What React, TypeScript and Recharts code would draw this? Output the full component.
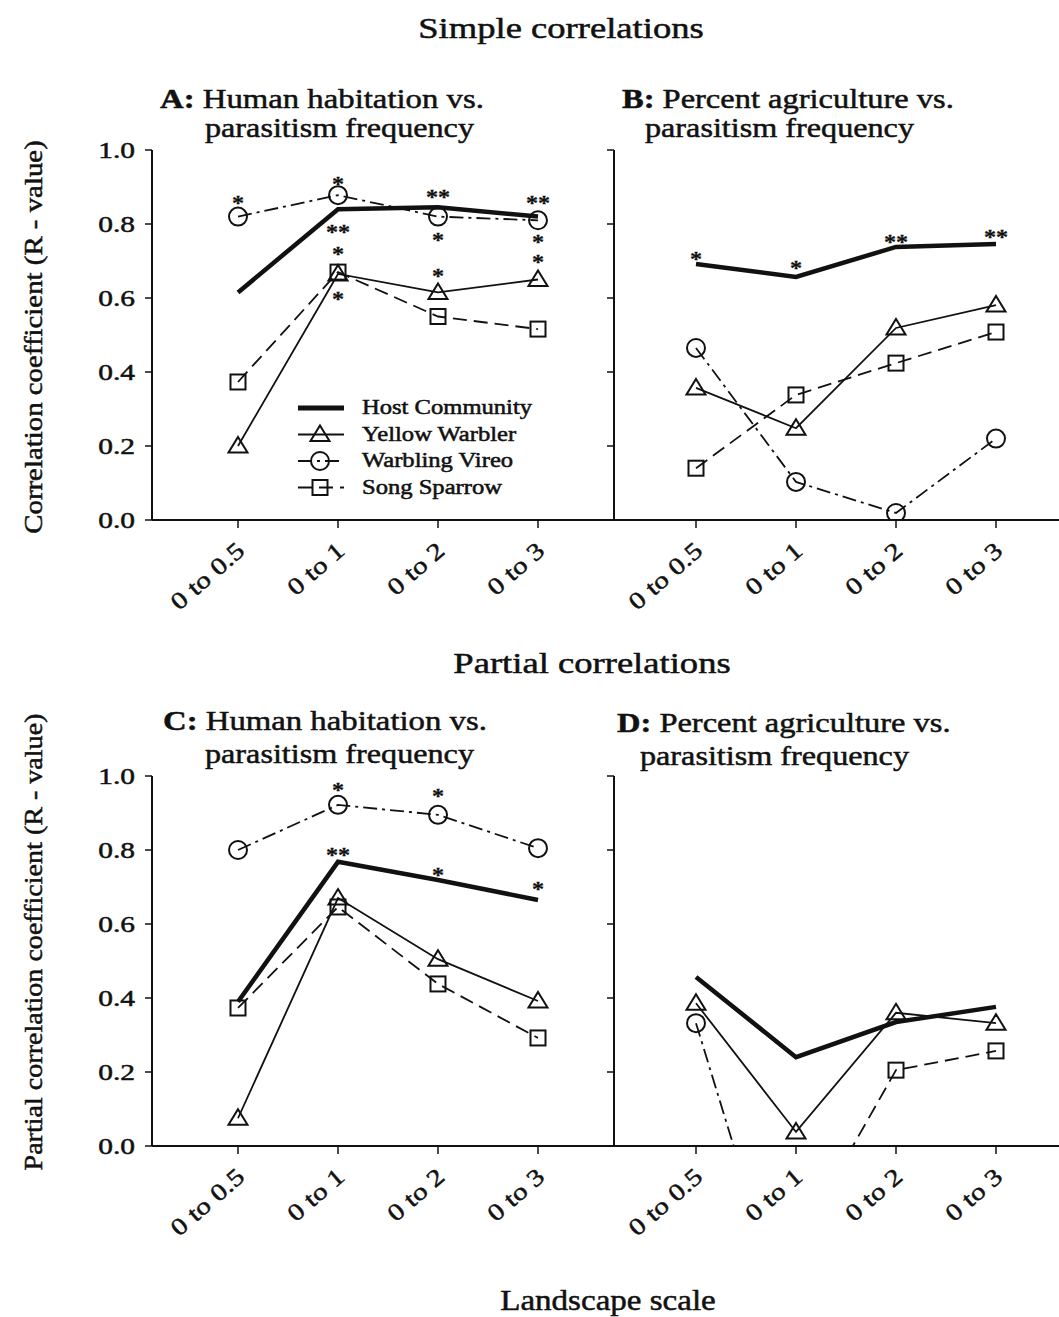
import React from 'react';
import { ComposedChart, Line, XAxis, YAxis, Legend, ReferenceDot } from 'recharts';

const SERIF = '"Liberation Serif", "Times New Roman", serif';
const INK = '#111';

// landscape scales (x categories)
const scales = ['0 to 0.5', '0 to 1', '0 to 2', '0 to 3'];
const scalePos = [1, 2, 3, 4];
const yTicks = [0, 0.2, 0.4, 0.6, 0.8, 1.0];

// A: human habitation vs. parasitism frequency (simple)
const hostA = [0.615, 0.84, 0.845, 0.82];
const warblerA = [0.2, 0.665, 0.615, 0.65];
const vireoA = [0.82, 0.878, 0.82, 0.81];
const sparrowA = [0.373, 0.67, 0.55, 0.516];

// B: percent agriculture vs. parasitism frequency (simple)
const hostB = [0.692, 0.657, 0.738, 0.746];
const warblerB = [0.357, 0.248, 0.519, 0.581];
const vireoB = [0.465, 0.103, 0.019, 0.22];
const sparrowB = [0.14, 0.338, 0.424, 0.508];

// C: human habitation (partial)
const hostC = [0.39, 0.768, 0.719, 0.665];
const warblerC = [0.075, 0.67, 0.505, 0.392];
const vireoC = [0.8, 0.922, 0.895, 0.805];
const sparrowC = [0.373, 0.646, 0.438, 0.292];

// D: percent agriculture (partial) - some values fall below the axis
const hostD = [0.457, 0.24, 0.335, 0.376];
const warblerD = [0.386, 0.038, 0.36, 0.332];
const vireoD = [0.332, -0.55, null, null];
const sparrowD = [null, -0.27, 0.205, 0.257];

type Star = { pos: number; r: number; mark: string };

const starsA: Star[] = [
  { pos: 1, r: 0.868, mark: '*' },
  { pos: 2, r: 0.92, mark: '*' },
  { pos: 2, r: 0.79, mark: '**' },
  { pos: 2, r: 0.73, mark: '*' },
  { pos: 2, r: 0.608, mark: '*' },
  { pos: 3, r: 0.884, mark: '**' },
  { pos: 3, r: 0.768, mark: '*' },
  { pos: 3, r: 0.67, mark: '*' },
  { pos: 4, r: 0.868, mark: '**' },
  { pos: 4, r: 0.762, mark: '*' },
  { pos: 4, r: 0.708, mark: '*' },
];
const starsB: Star[] = [
  { pos: 1, r: 0.716, mark: '*' },
  { pos: 2, r: 0.692, mark: '*' },
  { pos: 3, r: 0.762, mark: '**' },
  { pos: 4, r: 0.775, mark: '**' },
];
const starsC: Star[] = [
  { pos: 2, r: 0.973, mark: '*' },
  { pos: 2, r: 0.797, mark: '**' },
  { pos: 3, r: 0.957, mark: '*' },
  { pos: 3, r: 0.743, mark: '*' },
  { pos: 4, r: 0.705, mark: '*' },
];
const starsD: Star[] = [];

const makeRows = (host: any[], warbler: any[], vireo: any[], sparrow: any[]) =>
  scalePos.map((pos, i) => ({ pos, host: host[i], warbler: warbler[i], vireo: vireo[i], sparrow: sparrow[i] }));

const rowsA = makeRows(hostA, warblerA, vireoA, sparrowA);
const rowsB = makeRows(hostB, warblerB, vireoB, sparrowB);
const rowsC = makeRows(hostC, warblerC, vireoC, sparrowC);
const rowsD = makeRows(hostD, warblerD, vireoD, sparrowD);

const seriesDefs = [
  { key: 'host', name: 'Host Community', width: 4.5, dash: undefined as string | undefined, marker: 'none' },
  { key: 'warbler', name: 'Yellow Warbler', width: 1.8, dash: undefined, marker: 'triangle' },
  { key: 'vireo', name: 'Warbling Vireo', width: 1.8, dash: '14 5 3 5', marker: 'circle' },
  { key: 'sparrow', name: 'Song Sparrow', width: 1.8, dash: '14 7', marker: 'square' },
];

// stretched serif text (the scanned figure uses a wide-set, inky Times)
const SText = ({ x, y, size, sx = 1.25, anchor = 'start', rotate = 0, ink = 0.5, weight, children }: any) => (
  <text
    transform={`translate(${x},${y}) rotate(${rotate}) scale(${sx},1)`}
    fontSize={size}
    fontFamily={SERIF}
    fontWeight={weight}
    textAnchor={anchor}
    fill={INK}
    stroke={INK}
    strokeWidth={ink}
  >
    {children}
  </text>
);

const markerShape = (kind: string, cx: number, cy: number, key?: any) => {
  if (kind === 'triangle')
    return <path key={key} d={`M${cx},${cy - 9}L${cx + 9.5},${cy + 6.5}L${cx - 9.5},${cy + 6.5}Z`} fill="none" stroke={INK} strokeWidth={2} />;
  if (kind === 'circle') return <circle key={key} cx={cx} cy={cy} r={9} fill="none" stroke={INK} strokeWidth={2} />;
  if (kind === 'square') return <rect key={key} x={cx - 7.5} y={cy - 7.5} width={15} height={15} fill="none" stroke={INK} strokeWidth={2} />;
  return <g key={key} />;
};

const XTick = (props: any) => {
  const { x, y, payload } = props;
  return (
    <SText x={x + 8} y={y + 23} size={24} sx={1.22} rotate={-41} anchor="end">
      {scales[payload.value - 1]}
    </SText>
  );
};

const YTick = (props: any) => {
  const { x, y, payload } = props;
  return (
    <SText x={x - 8} y={y + 8} size={23} sx={1.28} anchor="end">
      {Number(payload.value).toFixed(1)}
    </SText>
  );
};

const EmptyTick = () => <g />;

const LegendBox = () => (
  <svg width={260} height={110}>
    {seriesDefs.map((d, i) => {
      const cy = 14 + i * 26.5;
      return (
        <g key={d.key}>
          <line x1={6} x2={52} y1={cy} y2={cy} stroke={INK} strokeWidth={d.width === 4.5 ? 5 : 1.8} strokeDasharray={d.dash} />
          {markerShape(d.marker, 28, cy)}
          <SText x={70} y={cy + 6} size={20} sx={1.23}>{d.name}</SText>
        </g>
      );
    })}
  </svg>
);

type PanelProps = {
  left: number;
  top: number;
  rows: any[];
  stars: Star[];
  domain: [number, number];
  yLabels: boolean;
  legend?: boolean;
};

const Panel = ({ left, top, rows, stars, domain, yLabels, legend }: PanelProps) => (
  <div style={{ position: 'absolute', left, top }}>
    <ComposedChart
      width={yLabels ? 614 : 522}
      height={640}
      data={rows}
      margin={{ top: 150, right: 0, bottom: 0, left: yLabels ? 92 : 0 }}
    >
      <XAxis
        dataKey="pos"
        type="number"
        domain={domain}
        ticks={scalePos}
        interval={0}
        allowDataOverflow
        height={120}
        tickSize={8}
        axisLine={{ stroke: INK, strokeWidth: 2 }}
        tickLine={{ stroke: INK, strokeWidth: 1.5 }}
        tick={XTick}
      />
      <YAxis
        type="number"
        domain={[0, 1]}
        ticks={yTicks}
        interval={0}
        allowDataOverflow
        width={60}
        tickSize={7}
        axisLine={{ stroke: INK, strokeWidth: 2 }}
        tickLine={{ stroke: INK, strokeWidth: 1.5 }}
        tick={yLabels ? YTick : EmptyTick}
      />
      {seriesDefs.map((d) => (
        <Line
          key={d.key}
          dataKey={d.key}
          name={d.name}
          type="linear"
          stroke={INK}
          strokeWidth={d.width}
          strokeDasharray={d.dash}
          connectNulls={false}
          activeDot={false}
          isAnimationActive={false}
          dot={
            d.marker === 'none'
              ? false
              : (p: any) =>
                  p.value == null || p.cy == null ? <g key={p.key} /> : markerShape(d.marker, p.cx, p.cy, p.key)
          }
        />
      ))}
      {stars.map((s, i) => (
        <ReferenceDot
          key={`star-${i}`}
          x={s.pos}
          y={s.r}
          r={0}
          ifOverflow="visible"
          shape={(p: any) => (
            <SText x={p.cx} y={p.cy + 11} size={22} sx={1.1} weight="bold" ink={0.3} anchor="middle">
              {s.mark}
            </SText>
          )}
        />
      ))}
      {legend && (
        <Legend
          layout="vertical"
          align="center"
          verticalAlign="middle"
          content={LegendBox}
          wrapperStyle={{ left: 292, top: 394, width: 260 }}
        />
      )}
    </ComposedChart>
  </div>
);

export default function App() {
  return (
    <div
      style={{
        position: 'absolute',
        left: 0,
        top: 0,
        width: 1059,
        height: 1317,
        overflow: 'hidden',
        background: '#fff',
      }}
    >
      <Panel left={0} top={0} rows={rowsA} stars={starsA} domain={[0.14, 4.76]} yLabels legend />
      <Panel left={554} top={0} rows={rowsB} stars={starsB} domain={[0.18, 4.8]} yLabels={false} />
      <Panel left={0} top={626} rows={rowsC} stars={starsC} domain={[0.14, 4.76]} yLabels />
      <Panel left={554} top={626} rows={rowsD} stars={starsD} domain={[0.18, 4.8]} yLabels={false} />

      <svg width={1059} height={1317} style={{ position: 'absolute', left: 0, top: 0, pointerEvents: 'none' }}>
        <SText x={561} y={38} size={30} sx={1.22} anchor="middle">Simple correlations</SText>
        <SText x={160} y={108} size={28} sx={1.17}>
          <tspan fontWeight="bold">A:</tspan> Human habitation vs.
        </SText>
        <SText x={205} y={137} size={28} sx={1.15}>parasitism frequency</SText>
        <SText x={622} y={108} size={28} sx={1.16}>
          <tspan fontWeight="bold">B:</tspan> Percent agriculture vs.
        </SText>
        <SText x={645} y={137} size={28} sx={1.15}>parasitism frequency</SText>

        <SText x={592} y={673} size={30} sx={1.22} anchor="middle">Partial correlations</SText>
        <SText x={163} y={730} size={28} sx={1.17}>
          <tspan fontWeight="bold">C:</tspan> Human habitation vs.
        </SText>
        <SText x={205} y={763} size={28} sx={1.15}>parasitism frequency</SText>
        <SText x={617} y={732} size={28} sx={1.16}>
          <tspan fontWeight="bold">D:</tspan> Percent agriculture vs.
        </SText>
        <SText x={640} y={765} size={28} sx={1.15}>parasitism frequency</SText>

        <SText x={42} y={337} size={26} sx={1.11} rotate={-90} anchor="middle">
          Correlation coefficient (R - value)
        </SText>
        <SText x={42} y={942} size={26} sx={1.08} rotate={-90} anchor="middle">
          Partial correlation coefficient (R - value)
        </SText>
        <SText x={608} y={1310} size={29} sx={1.14} anchor="middle">Landscape scale</SText>
      </svg>
    </div>
  );
}
